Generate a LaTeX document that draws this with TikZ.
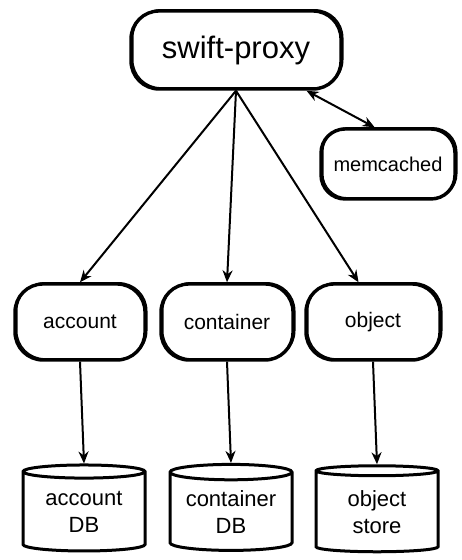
\documentclass[tikz,border=0pt]{standalone}
\usepackage{fontspec}
\setmainfont{Liberation Sans}
\usetikzlibrary{shapes.geometric,arrows.meta}
\begin{document}
\begin{tikzpicture}[x=1pt,y=-1pt,
  procbox/.style={draw,line width=3.4pt,rounded corners=28pt,inner sep=0pt,
    font=\fontsize{21}{23}\selectfont,
    postaction={draw,line width=1.4pt,transform canvas={shift={(1.8pt,1.2pt)}}}},
  store/.style={draw,line width=3pt,shape=cylinder,shape border rotate=90,
    aspect=0.17,minimum width=122pt,minimum height=86pt,inner sep=0pt,
    align=center,font=\fontsize{22}{27}\selectfont},
  tip/.tip={Stealth[length=12pt,width=10pt]},
  link/.style={line width=2pt,-tip},
  both/.style={line width=2pt,tip-tip}]
\useasboundingbox (0,0) rectangle (462,560);
\fill[white] (0,0) rectangle (462,560);

% front end and its cache
\node[procbox,minimum width=210pt,minimum height=78pt,
  font=\fontsize{31}{33}\selectfont] (proxy) at (236,50) {swift-proxy};
\node[procbox,minimum width=134pt,minimum height=70pt,rounded corners=24pt,
  font=\fontsize{20}{22}\selectfont] (cache) at (388,164) {memcached};

% storage servers
\node[procbox,minimum width=130pt,minimum height=76pt] (acct) at (80,322) {account};
\node[procbox,minimum width=132pt,minimum height=76pt] (cont) at (227,322) {container};
\node[procbox,minimum width=134pt,minimum height=76pt] (obj) at (373,322) {object};

% backing stores
\node[store] (acctdb) at (84,512) {account\\DB};
\node[store] (contdb) at (231,512) {container\\DB};
\node[store] (objdb) at (377,512) {object\\store};

% connections
\draw[both] (proxy.-30) -- (cache.110);
\draw[link] (proxy.south) -- (acct.north);
\draw[link] (proxy.south) -- (cont.north);
\draw[link] (proxy.south) -- (obj.110);
\draw[link] (acct.south) -- (acctdb.top);
\draw[link] (cont.south) -- (contdb.top);
\draw[link] (obj.south) -- (objdb.top);
\end{tikzpicture}
\end{document}
